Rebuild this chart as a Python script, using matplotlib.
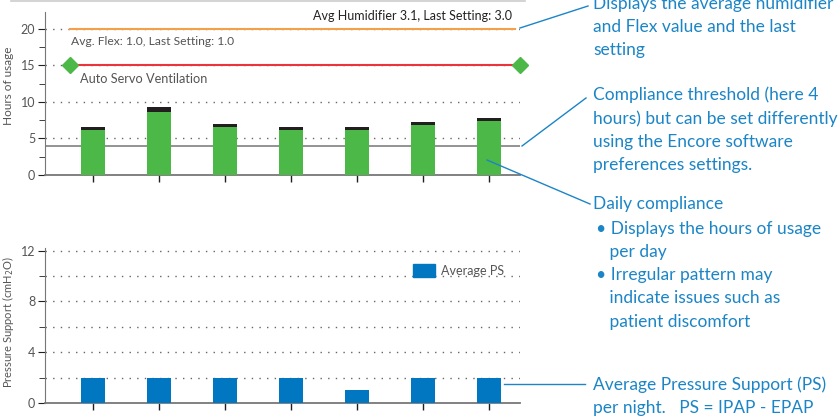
import matplotlib
matplotlib.use("Agg")
import matplotlib.pyplot as plt
from matplotlib.lines import Line2D
from matplotlib.patches import Patch

plt.rcParams['font.family'] = ['Lato', 'DejaVu Sans']

# data
days = [0, 1, 2, 3, 4, 5, 6]
usage_hours = [6.2, 8.65, 6.6, 6.2, 6.2, 6.85, 7.4]
usage_extra = [0.4, 0.65, 0.4, 0.4, 0.4, 0.4, 0.4]
avg_ps = [2, 2, 2, 2, 1, 2, 2]
threshold = 4
humidifier_level = 20
asv_level = 15

GREEN = '#4cb848'
DARK = '#231f20'
BLUE = '#0077c0'
NOTE = '#1b85c6'
GRAY = '#777777'
TXT = '#555555'

fig = plt.figure(figsize=(8.4, 4.2), dpi=100)
W, H = 840, 420

def px(x0, y0, x1, y1):
    # pixel box -> figure fraction rect
    return [x0 / W, 1 - y1 / H, (x1 - x0) / W, (y1 - y0) / H]

ax1 = fig.add_axes(px(45, 12, 520, 175))
ax2 = fig.add_axes(px(45, 248, 520, 403))

for ax in (ax1, ax2):
    for s in ('top', 'right'):
        ax.spines[s].set_visible(False)
    ax.spines['left'].set_color(GRAY)
    ax.spines['bottom'].set_color(GRAY)
    ax.spines['bottom'].set_linewidth(1.3)
    ax.set_xlim(-0.73, 6.47)
    ax.set_xticks(days)
    ax.set_xticklabels([])
    ax.tick_params(axis='x', length=5, color=DARK, width=1)
    ax.tick_params(axis='y', which='major', length=5, color=DARK, labelsize=9, labelcolor=TXT, pad=2)
    ax.tick_params(axis='y', which='minor', length=4, color=DARK)

GRID = dict(color='#666666', ls=(0, (1, 4.5)), lw=1, zorder=0)

# --- top: hours of usage ---
ax1.set_ylim(0, 22.3)
ax1.set_yticks([0, 5, 10, 15, 20])
ax1.set_yticks([2.5, 7.5, 12.5, 17.5], minor=True)
for g in [5, 10, 15, 20]:
    ax1.axhline(g, **GRID)
ax1.bar(days, usage_hours, width=0.36, color=GREEN, zorder=3)
ax1.bar(days, usage_extra, width=0.36, bottom=usage_hours, color=DARK, zorder=3)
ax1.axhline(threshold, color='#8a8a8a', lw=1.3, zorder=2)
ax1.plot([-0.35, 6.4], [humidifier_level] * 2, color='#f4a04a', lw=1.5, zorder=2)
ax1.plot([-0.35, 6.47], [asv_level] * 2, color='#e8343a', lw=1.5, zorder=2)
ax1.plot([-0.35, 6.47], [asv_level] * 2, ls='none', marker='D', ms=8,
         color=GREEN, zorder=4, clip_on=False)
ax1.text(-0.33, 18.2, 'Avg. Flex: 1.0, Last Setting: 1.0', fontsize=8.7, color=TXT, va='center')
ax1.text(-0.2, 13.2, 'Auto Servo Ventilation', fontsize=9.2, color=TXT, va='center')
ax1.text(6.35, 21.7, 'Avg Humidifier 3.1, Last Setting: 3.0', fontsize=9, color='#222222',
         va='center', ha='right')
ax1.set_ylabel('Hours of usage', fontsize=8.5, color=TXT)
ax1.yaxis.set_label_coords(-0.066, 0.55)

# --- bottom: pressure support ---
ax2.set_ylim(0, 12.2)
ax2.set_yticks([0, 4, 8, 12])
ax2.set_yticks([2, 6, 10], minor=True)
for g in [2, 4, 6, 8, 10, 12]:
    ax2.axhline(g, **GRID)
ax2.bar(days, avg_ps, width=0.36, color=BLUE, zorder=3)
ax2.legend(handles=[Patch(color=BLUE, label='Average PS')], loc='upper right',
           bbox_to_anchor=(0.99, 0.97), frameon=False, fontsize=9, labelcolor=TXT,
           handlelength=1.7, handleheight=1.2, handletextpad=0.5)
ax2.set_ylabel('Pressure Support (cmH$_2$O)', fontsize=8, color=TXT)
ax2.yaxis.set_label_coords(-0.06, 0.52)

# top border line
fig.add_artist(Line2D([11 / W, 525 / W], [1 - 1 / H] * 2, color='#cccccc', lw=1.2))

# annotations (x, y of first line centre in pixels)
notes = [
    (593, 5, 'Displays the average humidifier\nand Flex value and the last\nsetting'),
    (593, 95, 'Compliance threshold (here 4\nhours) but can be set differently\nusing the Encore software\npreferences settings.'),
    (593, 205, 'Daily compliance'),
    (596, 230, '\u2022 Displays the hours of usage\n   per day\n\u2022 Irregular pattern may\n   indicate issues such as\n   patient discomfort'),
    (593, 385, 'Average Pressure Support (PS)\nper night.   PS = IPAP - EPAP'),
]
for x, y, s in notes:
    fig.text(x / W, 1 - (y - 9) / H, s, fontsize=12.5, color=NOTE, va='top', ha='left',
             linespacing=1.55)

leaders = [
    ((520, 28), (588, 6)),
    ((522, 146), (586, 98)),
    ((487, 160), (590, 204)),
    ((504, 384), (585, 384)),
]
for (x0, y0), (x1, y1) in leaders:
    fig.add_artist(Line2D([x0 / W, x1 / W], [1 - y0 / H, 1 - y1 / H], color=NOTE, lw=1))

fig.savefig('out.png', dpi=100)
